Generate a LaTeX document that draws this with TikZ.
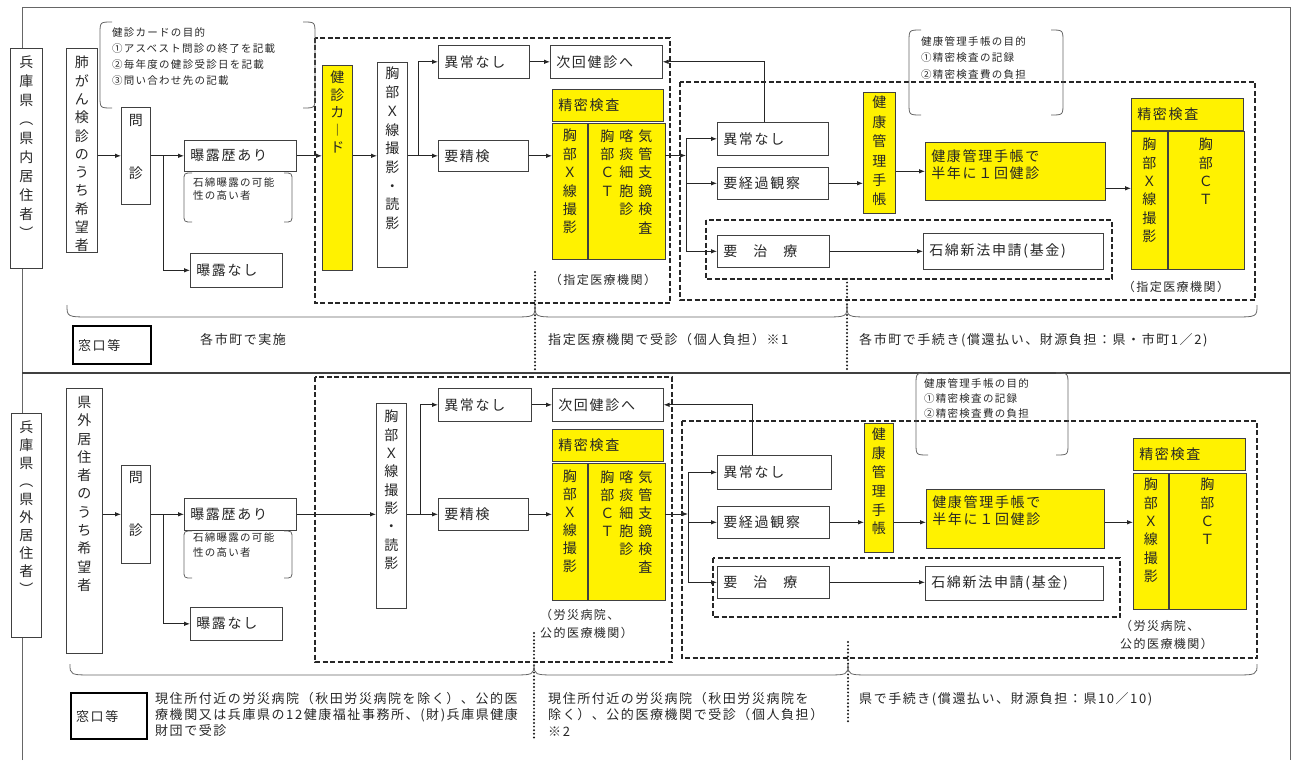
\documentclass[tikz,border=0pt]{standalone}
\usepackage{fontspec}
\setmainfont{Noto Sans CJK JP}[LetterSpace=12]
\usetikzlibrary{positioning,arrows.meta,calc}

% double bracket round a memo: x1 y1 x2 y2 radius
\newcommand{\dbrk}[5]{%
  \draw[brk] ({#1+#5},#2) .. controls (#1,#2) .. (#1,{#2+#5}) -- (#1,{#4-#5}) .. controls (#1,#4) .. ({#1+#5},#4);
  \draw[brk] ({#3-#5},#2) .. controls (#3,#2) .. (#3,{#2+#5}) -- (#3,{#4-#5}) .. controls (#3,#4) .. ({#3-#5},#4);}
% flat brace under a stage: x1 x2 ytop yflat
\newcommand{\ubrc}[4]{%
  \draw[brk] (#1,#3) .. controls (#1,#4) .. ({#1+25},#4) -- ({#2-25},#4) .. controls (#2,#4) .. (#2,#3);}

\begin{document}
\begin{tikzpicture}[x=1pt,y=-1pt,
        box/.style={draw=black!75,line width=0.6pt,anchor=north west,inner sep=0pt,text=black!85},
        lbox/.style={box,align=left,inner xsep=6pt,font=\fontsize{14}{17}\selectfont},
        ybox/.style={box,fill=yellow},
        vtxt/.style={anchor=north,align=center,inner sep=0pt,text=black!85},
        grp/.style={draw=black!85,line width=1.1pt,dash pattern=on 5pt off 2.5pt},
        dotl/.style={black!90,line width=2.2pt,line cap=round,dash pattern=on 0pt off 3.6pt},
        arr/.style={-{Latex[length=6pt,width=4.5pt]},line width=0.8pt,black!85},
        conn/.style={line width=0.8pt,black!85},
        outer/.style={black!60,line width=0.8pt},
        brk/.style={black!60,line width=0.8pt},
        memo/.style={anchor=north west,align=left,inner sep=0pt,text=black!85},
        txt/.style={anchor=west,align=left,inner sep=0pt,text=black!85,font=\fontsize{13}{16}\selectfont},
        win/.style={draw=black,line width=2.4pt,anchor=north west,align=left,inner xsep=5pt,text=black!85,font=\fontsize{13}{16}\selectfont},
        kikan/.style={inner sep=0pt,text=black!85,font=\fontsize{12}{18}\selectfont},
    ]
    \useasboundingbox (0,0) rectangle (1295,760);

    % frame
    \draw[outer] (22,760) -- (22,7) -- (1290,7) -- (1290,760);
    \draw[outer,black!75,line width=1.4pt] (22,373) -- (1290,373);

    % ---------- upper part ----------
    \draw[grp] (315,38) rectangle (670,303);
    \draw[grp] (680,82) rectangle (1255,300);
    \draw[grp] (706,220) rectangle (1112,279);

    \node[box,fill=white,minimum width=32pt,minimum height=220pt] (lab1) at (10,48) {};
    \node[vtxt,below=8pt of lab1.north,font=\fontsize{14}{19}\selectfont] (lab1t) {兵\\庫\\県\\︵\\県\\内\\居\\住\\者\\︶};
    \node[box,minimum width=31pt,minimum height=204pt] (hai) at (66,48) {};
    \node[vtxt,below=8pt of hai.north,font=\fontsize{14}{18.3}\selectfont] (hait) {肺\\が\\ん\\検\\診\\の\\う\\ち\\希\\望\\者};
    \node[box,minimum width=29pt,minimum height=97pt] (mon) at (121,107) {};
    \node[vtxt,below=7pt of mon.north,font=\fontsize{14}{17}\selectfont] (mont) {問\\[36pt]診};

    \node[lbox,text width=100pt,minimum height=31pt] (aru) at (184,140) {曝露歴あり};
    \node[lbox,text width=80pt,minimum height=34pt] (nasi) at (190,253) {曝露なし};
    \dbrk{184}{173}{292}{222}{8}
    \node[memo,font=\fontsize{10.5}{13}\selectfont] (arum) at (193,177) {石綿曝露の可能\\性の高い者};

    \dbrk{100}{22}{315}{108}{12}
    \node[memo,font=\fontsize{10.5}{16.3}\selectfont] (memo1) at (112,27) {健診カードの目的\\①アスベスト問診の終了を記載\\②毎年度の健診受診日を記載\\③問い合わせ先の記載};

    \node[ybox,minimum width=30pt,minimum height=205pt] (card) at (322,65) {};
    \node[vtxt,below=6pt of card.north,font=\fontsize{14}{17.5}\selectfont] (cardt) {健\\診\\カ\\︱\\ド};
    \node[box,minimum width=30pt,minimum height=205pt] (xray) at (377,62) {};
    \node[vtxt,below=5pt of xray.north,font=\fontsize{14}{18.7}\selectfont] (xrayt) {胸\\部\\Ｘ\\線\\撮\\影\\・\\読\\影};

    \node[lbox,text width=79pt,minimum height=33pt] (ijo1) at (438,45) {異常なし};
    \node[lbox,text width=100pt,minimum height=33pt] (tsugi) at (550,45) {次回健診へ};
    \node[lbox,text width=78pt,minimum height=31pt] (yosei) at (438,140) {要精検};

    \node[lbox,fill=yellow,text width=99pt,minimum height=32pt] (sh1) at (552,89) {精密検査};
    \node[ybox,minimum width=35pt,minimum height=136pt] (sb1) at (552,123) {};
    \node[ybox,minimum width=77pt,minimum height=136pt] (sb2) at (sb1.north east) {};
    \node[vtxt,below=6pt of sb1.north,font=\fontsize{14}{18.4}\selectfont] (sb1t) {胸\\部\\Ｘ\\線\\撮\\影};
    \node[vtxt,below=5pt of sb2.north,font=\fontsize{14}{18.4}\selectfont] (sb2t) {\begin{tabular}{@{}c@{\hspace{5pt}}c@{\hspace{5pt}}c@{}}胸&喀&気\\部&痰&管\\Ｃ&細&支\\Ｔ&胞&鏡\\&診&検\\&&査\end{tabular}};
    \node[kikan] (kikan1) at (603,280) {（指定医療機関）};

    \node[lbox,text width=99pt,minimum height=33pt] (ijo2) at (717,122) {異常なし};
    \node[lbox,text width=99pt,minimum height=32pt] (keika) at (717,167) {要経過観察};
    \node[lbox,text width=100pt,minimum height=32pt] (chiryo) at (717,235) {要\hspace{16pt}治\hspace{16pt}療};
    \node[ybox,minimum width=32pt,minimum height=121pt] (kenko) at (863,92) {};
    \node[vtxt,below=4pt of kenko.north,font=\fontsize{14}{19.4}\selectfont] (kenkot) {健\\康\\管\\理\\手\\帳};
    \node[lbox,fill=yellow,text width=168pt,minimum height=58pt,text depth=32pt] (techo) at (925,142) {健康管理手帳で\\半年に１回健診};
    \node[lbox,text width=168pt,minimum height=36pt] (seki) at (923,233) {石綿新法申請(基金)};

    \node[lbox,fill=yellow,text width=100pt,minimum height=32pt] (srh1) at (1131,98) {精密検査};
    \node[ybox,minimum width=36pt,minimum height=138pt] (sr1) at (1131,131) {};
    \node[ybox,minimum width=76pt,minimum height=138pt] (sr2) at (sr1.north east) {};
    \node[vtxt,below=7pt of sr1.north,font=\fontsize{14}{18.3}\selectfont] (sr1t) {胸\\部\\Ｘ\\線\\撮\\影};
    \node[vtxt,below=7pt of sr2.north,font=\fontsize{14}{18.3}\selectfont] (sr2t) {胸\\部\\Ｃ\\Ｔ};
    \node[kikan] (kikan2) at (1176,287) {（指定医療機関）};

    \dbrk{909}{30}{1063}{115}{12}
    \node[memo,font=\fontsize{10.5}{16.5}\selectfont] (memo2) at (921,36) {健康管理手帳の目的\\①精密検査の記録\\②精密検査費の負担};

    % connectors
    \coordinate (b1) at ($(mon.east)+(13,0)$);
    \draw[arr] (hai.east |- mon.west) -- (mon.west);
    \draw[conn] (mon.east) -- (b1);
    \draw[arr] (b1) -- (aru.west);
    \draw[arr] (b1) |- (nasi.west);
    \draw[arr] (aru.east) -- (aru.east -| card.west);
    \draw[arr] (card.east |- aru.east) -- (xray.west |- aru.east);
    \coordinate (b2) at ($(xray.east |- aru.east)+(11,0)$);
    \draw[conn] (xray.east |- b2) -- (b2);
    \draw[arr] (b2) |- (ijo1.west);
    \draw[arr] (b2) -- (yosei.west);
    \draw[arr] (ijo1.east) -- (tsugi.west);
    \draw[arr] (yosei.east) -- (yosei.east -| sb1.west);
    \coordinate (b3) at (686,155.5);
    \draw[arr] (sb2.east |- b3) -- (b3);
    \draw[arr] (b3) |- (ijo2.west);
    \draw[arr] (b3) |- (keika.west);
    \draw[arr] (b3) |- (chiryo.west);
    \draw[arr] ([xshift=-8pt]ijo2.north) |- (tsugi.east);
    \draw[arr] (keika.east) -- (keika.east -| kenko.west);
    \draw[arr] (kenko.east |- techo.west) -- (techo.west);
    \draw[arr] ([yshift=-17pt]techo.east) -- ([yshift=-17pt]techo.east -| sr1.west);
    \draw[arr] (chiryo.east) -- (chiryo.east -| seki.west);

    \draw[dotl] (535,272) -- (535,372);
    \draw[dotl] (847,279) -- (847,372);
    \ubrc{67}{535}{305}{317}
    \ubrc{535}{847}{305}{317}
    \ubrc{847}{1257}{305}{317}
    \node[win,text width=68pt,minimum height=38pt] (mado1) at (72,325) {窓口等};
    \node[txt] (w1) at (200,340) {各市町で実施};
    \node[txt] (w2) at (548,340) {指定医療機関で受診（個人負担）※1};
    \node[txt] (w3) at (859,340) {各市町で手続き(償還払い、財源負担：県・市町1／2)};

    % ---------- lower part ----------
    \draw[grp] (315,377) rectangle (672,662);
    \draw[grp] (682,421) rectangle (1257,658);
    \draw[grp] (713,558) rectangle (1120,617);

    \node[box,fill=white,minimum width=30pt,minimum height=224pt] (lab2) at (11,413) {};
    \node[vtxt,below=8pt of lab2.north,font=\fontsize{14}{18}\selectfont] (lab2t) {兵\\庫\\県\\︵\\県\\外\\居\\住\\者\\︶};
    \node[box,minimum width=36pt,minimum height=265pt] (kengai) at (66,388) {};
    \node[vtxt,below=8pt of kengai.north,font=\fontsize{14}{18.3}\selectfont] (kengait) {県\\外\\居\\住\\者\\の\\う\\ち\\希\\望\\者};
    \node[box,minimum width=29pt,minimum height=98pt] (mon2) at (121,465) {};
    \node[vtxt,below=6pt of mon2.north,font=\fontsize{14}{17}\selectfont] (mon2t) {問\\[36pt]診};

    \node[lbox,text width=100pt,minimum height=32pt] (aru2) at (184,498) {曝露歴あり};
    \node[lbox,text width=80pt,minimum height=33pt] (nasi2) at (190,607) {曝露なし};
    \dbrk{184}{531}{292}{578}{8}
    \node[memo,font=\fontsize{10.5}{15}\selectfont] (aru2m) at (193,532) {石綿曝露の可能\\性の高い者};

    \node[box,minimum width=30pt,minimum height=205pt] (xray2) at (376,403) {};
    \node[vtxt,below=7pt of xray2.north,font=\fontsize{14}{18.3}\selectfont] (xray2t) {胸\\部\\Ｘ\\線\\撮\\影\\・\\読\\影};

    \node[lbox,text width=81pt,minimum height=33pt] (ijo3) at (438,388) {異常なし};
    \node[lbox,text width=99pt,minimum height=33pt] (tsugi2) at (552,388) {次回健診へ};
    \node[lbox,text width=78pt,minimum height=32pt] (yosei2) at (438,498) {要精検};

    \node[lbox,fill=yellow,text width=99pt,minimum height=32pt] (sh2) at (552,429) {精密検査};
    \node[ybox,minimum width=35pt,minimum height=137pt] (sb3) at (552,463) {};
    \node[ybox,minimum width=77pt,minimum height=137pt] (sb4) at (sb3.north east) {};
    \node[vtxt,below=7pt of sb3.north,font=\fontsize{14}{18}\selectfont] (sb3t) {胸\\部\\Ｘ\\線\\撮\\影};
    \node[vtxt,below=7pt of sb4.north,font=\fontsize{14}{18}\selectfont] (sb4t) {\begin{tabular}{@{}c@{\hspace{5pt}}c@{\hspace{5pt}}c@{}}胸&喀&気\\部&痰&管\\Ｃ&細&支\\Ｔ&胞&鏡\\&診&検\\&&査\end{tabular}};
    \node[kikan,anchor=north west,align=left] (kikan3) at (540,609) {（労災病院、\\公的医療機関）};

    \node[lbox,text width=102pt,minimum height=34pt] (ijo4) at (717,455) {異常なし};
    \node[lbox,text width=100pt,minimum height=32pt] (keika2) at (717,506) {要経過観察};
    \node[lbox,text width=100pt,minimum height=32pt] (chiryo2) at (717,566) {要\hspace{16pt}治\hspace{16pt}療};
    \node[ybox,minimum width=29pt,minimum height=129pt] (kenko2) at (864,423) {};
    \node[vtxt,below=5pt of kenko2.north,font=\fontsize{14}{18.8}\selectfont] (kenko2t) {健\\康\\管\\理\\手\\帳};
    \node[lbox,fill=yellow,text width=166pt,minimum height=59pt,text depth=35pt] (techo2) at (926,489) {健康管理手帳で\\半年に１回健診};
    \node[lbox,text width=166pt,minimum height=34pt] (seki2) at (925,566) {石綿新法申請(基金)};

    \node[lbox,fill=yellow,text width=100pt,minimum height=32pt] (srh2) at (1133,438) {精密検査};
    \node[ybox,minimum width=35pt,minimum height=136pt] (sr3) at (1133,473) {};
    \node[ybox,minimum width=77pt,minimum height=136pt] (sr4) at (sr3.north east) {};
    \node[vtxt,below=5pt of sr3.north,font=\fontsize{14}{18.3}\selectfont] (sr3t) {胸\\部\\Ｘ\\線\\撮\\影};
    \node[vtxt,below=5pt of sr4.north,font=\fontsize{14}{18.3}\selectfont] (sr4t) {胸\\部\\Ｃ\\Ｔ};
    \node[kikan,anchor=north west,align=left] (kikan4) at (1120,620) {（労災病院、\\公的医療機関）};

    \dbrk{916}{373}{1068}{455}{12}
    \node[memo,font=\fontsize{10.5}{15}\selectfont] (memo3) at (924,378) {健康管理手帳の目的\\①精密検査の記録\\②精密検査費の負担};

    % connectors
    \coordinate (b4) at ($(mon2.east)+(13,0)$);
    \draw[arr] (kengai.east |- mon2.west) -- (mon2.west);
    \draw[conn] (mon2.east) -- (b4);
    \draw[arr] (b4) -- (b4 -| aru2.west);
    \draw[arr] (b4) |- (nasi2.west);
    \draw[arr] (aru2.east) -- (aru2.east -| xray2.west);
    \coordinate (b5) at ($(xray2.east |- aru2.east)+(14,0)$);
    \draw[conn] (xray2.east |- b5) -- (b5);
    \draw[arr] (b5) |- (ijo3.west);
    \draw[arr] (b5) -- (b5 -| yosei2.west);
    \draw[arr] (ijo3.east) -- (tsugi2.west);
    \draw[arr] (yosei2.east) -- (yosei2.east -| sb3.west);
    \coordinate (b6) at (688,514);
    \draw[arr] (sb4.east |- b6) -- (b6);
    \draw[arr] (b6) |- (ijo4.west);
    \draw[arr] (b6) |- (keika2.west);
    \draw[arr] (b6) |- (chiryo2.west);
    \draw[arr] ([xshift=-22pt]ijo4.north) |- (tsugi2.east);
    \draw[arr] (keika2.east) -- (keika2.east -| kenko2.west);
    \draw[arr] (kenko2.east |- keika2.east) -- (keika2.east -| techo2.west);
    \draw[arr] (techo2.east |- keika2.east) -- (keika2.east -| sr3.west);
    \draw[arr] (chiryo2.east) -- (chiryo2.east -| seki2.west);

    \draw[dotl] (534,633) -- (534,740);
    \draw[dotl] (848,642) -- (848,723);
    \ubrc{70}{534}{664}{675}
    \ubrc{534}{848}{664}{675}
    \ubrc{848}{1257}{664}{675}
    \node[win,text width=66pt,minimum height=46pt] (mado2) at (70,692) {窓口等};
    \node[txt,anchor=north west] (w4) at (155,692) {現住所付近の労災病院（秋田労災病院を除く）、公的医\\療機関又は兵庫県の12健康福祉事務所、(財)兵庫県健康\\財団で受診};
    \node[txt,anchor=north west,font=\fontsize{13}{16.5}\selectfont] (w5) at (548,692) {現住所付近の労災病院（秋田労災病院を\\除く）、公的医療機関で受診（個人負担）\\※2};
    \node[txt] (w6) at (859,699) {県で手続き(償還払い、財源負担：県10／10)};
\end{tikzpicture}
\end{document}
